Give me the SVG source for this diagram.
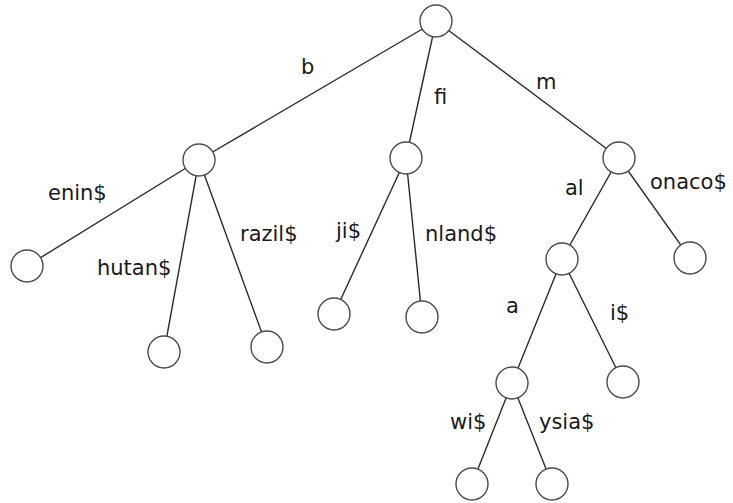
<svg xmlns="http://www.w3.org/2000/svg" width="733" height="503" viewBox="0 0 733 503">
  <style>
    .edge { stroke: #2b2b2b; stroke-width: 1.4; fill: none; }
    .node { fill: #ffffff; stroke: #4a4a4a; stroke-width: 1.4; }
    .lbl { font-family: "DejaVu Sans", "Liberation Sans", sans-serif; font-size: 21px; fill: #1a1a1a; }
  </style>
  <rect width="733" height="503" fill="#ffffff"/>

  <!-- tree edges, drawn under the nodes -->
  <g id="connectors">
    <line class="edge" x1="436" y1="21" x2="199" y2="160"/>
    <line class="edge" x1="436" y1="21" x2="406" y2="158"/>
    <line class="edge" x1="436" y1="21" x2="619" y2="158"/>
    <line class="edge" x1="199" y1="160" x2="27" y2="266"/>
    <line class="edge" x1="199" y1="160" x2="164" y2="352"/>
    <line class="edge" x1="199" y1="160" x2="267" y2="347"/>
    <line class="edge" x1="406" y1="158" x2="334" y2="314"/>
    <line class="edge" x1="406" y1="158" x2="422" y2="317"/>
    <line class="edge" x1="619" y1="158" x2="562" y2="259"/>
    <line class="edge" x1="619" y1="158" x2="690" y2="258"/>
    <line class="edge" x1="562" y1="259" x2="512" y2="383"/>
    <line class="edge" x1="562" y1="259" x2="623" y2="382"/>
    <line class="edge" x1="512" y1="383" x2="472" y2="484"/>
    <line class="edge" x1="512" y1="383" x2="552" y2="484"/>
  </g>

  <!-- edge labels -->
  <g id="labels">
    <text class="lbl" x="301" y="74">b</text>
    <text class="lbl" x="434" y="104">fi</text>
    <text class="lbl" x="536" y="89">m</text>
    <text class="lbl" x="48" y="200">enin$</text>
    <text class="lbl" x="97" y="275">hutan$</text>
    <text class="lbl" x="240" y="241">razil$</text>
    <text class="lbl" x="336" y="238">ji$</text>
    <text class="lbl" x="425" y="241">nland$</text>
    <text class="lbl" x="565" y="195">al</text>
    <text class="lbl" x="650" y="189">onaco$</text>
    <text class="lbl" x="506" y="313">a</text>
    <text class="lbl" x="610" y="320">i$</text>
    <text class="lbl" x="450" y="429">wi$</text>
    <text class="lbl" x="539" y="429">ysia$</text>
  </g>

  <!-- nodes -->
  <g id="root"><circle class="node" cx="436" cy="21" r="16"/></g>
  <g id="n-b"><circle class="node" cx="199" cy="160" r="16"/></g>
  <g id="n-fi"><circle class="node" cx="406" cy="158" r="16"/></g>
  <g id="n-m"><circle class="node" cx="619" cy="158" r="16"/></g>
  <g id="leaf-benin"><circle class="node" cx="27" cy="266" r="16"/></g>
  <g id="leaf-bhutan"><circle class="node" cx="164" cy="352" r="16"/></g>
  <g id="leaf-brazil"><circle class="node" cx="267" cy="347" r="16"/></g>
  <g id="leaf-fiji"><circle class="node" cx="334" cy="314" r="16"/></g>
  <g id="leaf-finland"><circle class="node" cx="422" cy="317" r="16"/></g>
  <g id="n-mal"><circle class="node" cx="562" cy="259" r="16"/></g>
  <g id="leaf-monaco"><circle class="node" cx="690" cy="258" r="16"/></g>
  <g id="n-mala"><circle class="node" cx="512" cy="383" r="16"/></g>
  <g id="leaf-mali"><circle class="node" cx="623" cy="382" r="16"/></g>
  <g id="leaf-malawi"><circle class="node" cx="472" cy="484" r="16"/></g>
  <g id="leaf-malaysia"><circle class="node" cx="552" cy="484" r="16"/></g>
</svg>
